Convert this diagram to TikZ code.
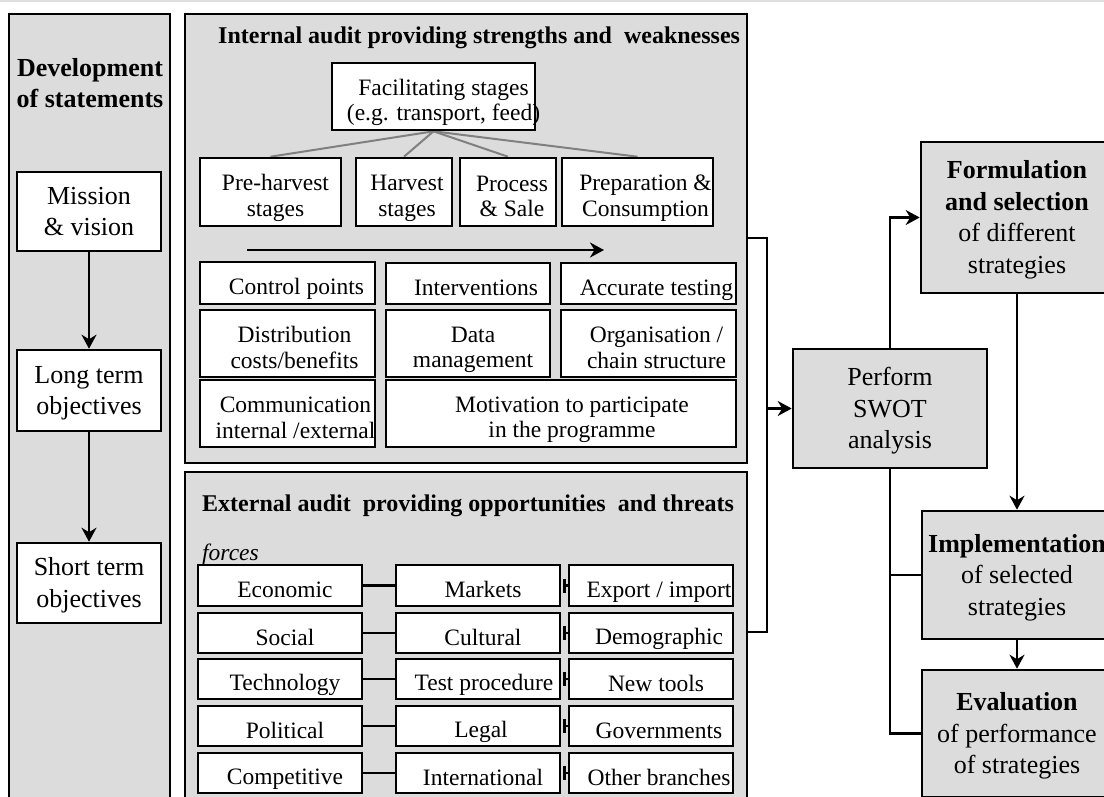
\documentclass[tikz,border=0pt]{standalone}
\usepackage{fontspec}
\setmainfont{Liberation Serif}
\usetikzlibrary{arrows.meta}

\definecolor{panel}{RGB}{220,220,220}
\definecolor{stemgray}{RGB}{128,128,128}

\tikzset{
  panelbox/.style={draw=black, fill=panel, line width=2.6pt, inner sep=0pt},
  whitebox/.style={draw=black, fill=white, line width=2.6pt, inner sep=0pt},
  graybox/.style={draw=black, fill=panel, line width=2.6pt, inner sep=0pt},
  txtS/.style={inner sep=0pt, align=center, font=\fontsize{23.5}{25.5}\selectfont},
  txtL/.style={inner sep=0pt, align=center, font=\fontsize{26}{31.5}\selectfont},
  headS/.style={inner sep=0pt, font=\fontsize{24}{28}\selectfont\bfseries},
  conn/.style={line width=2.5pt, draw=black},
  tip/.style={-{Stealth[length=14pt,width=15pt,inset=4.5pt]}},
  stem/.style={line width=2pt, draw=stemgray},
}

% invisible rules that fix where text lines sit inside their boxes
\newcommand\topS{\leavevmode\vrule width 0pt height 28.2pt depth 0pt\relax}
\newcommand\botS{\vrule width 0pt height 0pt depth 4.2pt\relax}
\newcommand\topL{\leavevmode\vrule width 0pt height 23.4pt depth 0pt\relax}
\newcommand\botL{\vrule width 0pt height 0pt depth 6pt\relax}

% box from corner (x1,y1) to (x2,y2), measured downward from the top edge
\newcommand\boxat[7]{%
  \node[#6, minimum width={(#4-#2)*1pt}, minimum height={(#5-#3)*1pt}]
    (#1) at ({(#2+#4)/2},{(#3+#5)/2}) {#7};}
% box with large centred text
\newcommand\lbox[7]{\boxat{#1}{#2}{#3}{#4}{#5}{#6,txtL}{\topL #7\botL}}
% white box whose label sits a little right of centre
\newcommand\tbox[7]{%
  \boxat{#1}{#2}{#3}{#4}{#5}{whitebox}{}%
  \node[txtS] (#1-t) at ([xshift=#6pt]#1.center) {\topS #7\botS};}

\begin{document}
\begin{tikzpicture}[x=1pt, y=-1pt]
\path[use as bounding box] (0,0) rectangle (1104,796);
\clip (0,0) rectangle (1104,796);

\draw[gray!25, line width=1.5pt] (0,1) -- (1104,1);

% ---- panels ----
\boxat{devp}{9}{14}{170}{812}{panelbox}{}
\boxat{intp}{185}{14}{747}{463}{panelbox}{}
\boxat{extp}{185}{472}{747}{812}{panelbox}{}

\node[txtL, font=\fontsize{26}{31.5}\selectfont\bfseries] (devt) at (90,83)
  {Development\\of statements};
\node[headS, anchor=base west] (intt) at (218,43)
  {Internal audit providing strengths and\ \ weaknesses};
\node[headS, anchor=base west] (extt) at (202,511)
  {External audit\ \ providing opportunities\ \ and threats};
\node[inner sep=0pt, anchor=base west, font=\fontsize{23.5}{25}\selectfont\itshape]
  (forces) at (202,560) {forces};

% ---- statements column ----
\lbox{mis}{17}{172}{161}{251}{whitebox}{Mission\\\& vision}
\lbox{long}{17}{350}{161}{431}{whitebox}{Long term\\objectives}
\lbox{short}{17}{543}{161}{623}{whitebox}{Short term\\objectives}
\draw[conn,tip] (mis.south) -- (long.north);
\draw[conn,tip] (long.south) -- (short.north);

% ---- internal audit ----
\boxat{fac}{332}{63}{535}{130}{whitebox}{}
\boxat{pre}{200}{158}{341}{226}{whitebox}{}
\boxat{harv}{356}{158}{452}{226}{whitebox}{}
\boxat{proc}{460}{158}{556}{226}{whitebox}{}
\boxat{prep}{562}{158}{713}{226}{whitebox}{}
\draw[stem] (fac.south) -- (pre.north);
\draw[stem] (fac.south) -- (harv.north);
\draw[stem] (fac.south) -- (proc.north);
\draw[stem] (fac.south) -- (prep.north);
\tbox{fac}{332}{63}{535}{130}{10}{Facilitating stages\\(e.g. transport, feed)}
\tbox{pre}{200}{158}{341}{226}{5}{Pre-harvest\\stages}
\tbox{harv}{356}{158}{452}{226}{3}{Harvest\\stages}
\tbox{proc}{460}{158}{556}{226}{4}{Process\\\& Sale}
\tbox{prep}{562}{158}{713}{226}{8}{Preparation \&\\Consumption}

\coordinate (flowA) at (247,250);
\coordinate (flowB) at (604,250);
\draw[conn,tip] (flowA) -- (flowB);

\tbox{cp}{200}{262}{375}{304}{9}{Control points}
\tbox{intv}{386}{263}{550}{304}{8}{Interventions}
\tbox{acc}{561}{263}{736}{304}{8}{Accurate testing}
\tbox{dist}{200}{310}{375}{377}{7}{Distribution\\costs/benefits}
\tbox{data}{386}{310}{550}{377}{5}{Data\\management}
\tbox{org}{561}{310}{736}{377}{8}{Organisation /\\chain structure}
\tbox{comm}{200}{380}{375}{447}{8}{Communication\\internal /external}
\tbox{mot}{386}{380}{736}{447}{11}{Motivation to participate\\in the programme}

% ---- external audit: forces ----
\tbox{ea1}{198}{565}{362}{606}{5}{Economic}
\tbox{eb1}{396}{565}{560}{606}{5}{Markets}
\tbox{ec1}{569}{565}{733}{606}{8}{Export / import}
\tbox{ea2}{198}{613}{362}{653}{5}{Social}
\tbox{eb2}{396}{613}{560}{653}{5}{Cultural}
\tbox{ec2}{569}{613}{733}{653}{8}{Demographic}
\tbox{ea3}{198}{659}{362}{699}{5}{Technology}
\tbox{eb3}{396}{659}{560}{699}{6}{Test procedure}
\tbox{ec3}{569}{659}{733}{699}{5}{New tools}
\tbox{ea4}{198}{706}{362}{746}{5}{Political}
\tbox{eb4}{396}{706}{560}{746}{3}{Legal}
\tbox{ec4}{569}{706}{733}{746}{8}{Governments}
\tbox{ea5}{198}{753}{362}{793}{5}{Competitive}
\tbox{eb5}{396}{753}{560}{793}{5}{International}
\tbox{ec5}{569}{753}{733}{793}{8}{Other branches}
\foreach \r in {1,...,5}{
  \draw[conn] (ea\r.east) -- (eb\r.west);
  \draw[conn] ([xshift=3pt]eb\r.east) -- (ec\r.west);
  \draw[conn] ([xshift=3pt,yshift=7pt]eb\r.east) -- ([xshift=3pt,yshift=-7pt]eb\r.east);
}

% ---- strategy chain ----
\lbox{swot}{793}{349}{987}{468}{graybox}{Perform\\SWOT\\analysis}
\lbox{form}{921}{142}{1113}{293}{graybox}
  {\textbf{Formulation}\\\textbf{and selection}\\of different\\strategies}
\lbox{impl}{922}{511}{1112}{639}{graybox}
  {\textbf{Implementation}\\of selected\\strategies}
\lbox{eval}{922}{670}{1112}{797}{graybox}
  {\textbf{Evaluation}\\of performance\\of strategies}

\coordinate (busT) at (767,238);
\coordinate (busB) at (767,632);
\draw[conn] (intp.east |- busT) -- (busT) -- (busB) -- (extp.east |- busB);
\draw[conn,tip] (busT |- swot.west) -- (swot.west);
\draw[conn,tip] (swot.north) |- (form.west);
\draw[conn,tip] (form.south) -- (impl.north);
\draw[conn,tip] (impl.south) -- (eval.north);
\draw[conn] (swot.south) |- (eval.west);
\draw[conn] (swot.south |- impl.west) -- (impl.west);
\end{tikzpicture}
\end{document}
